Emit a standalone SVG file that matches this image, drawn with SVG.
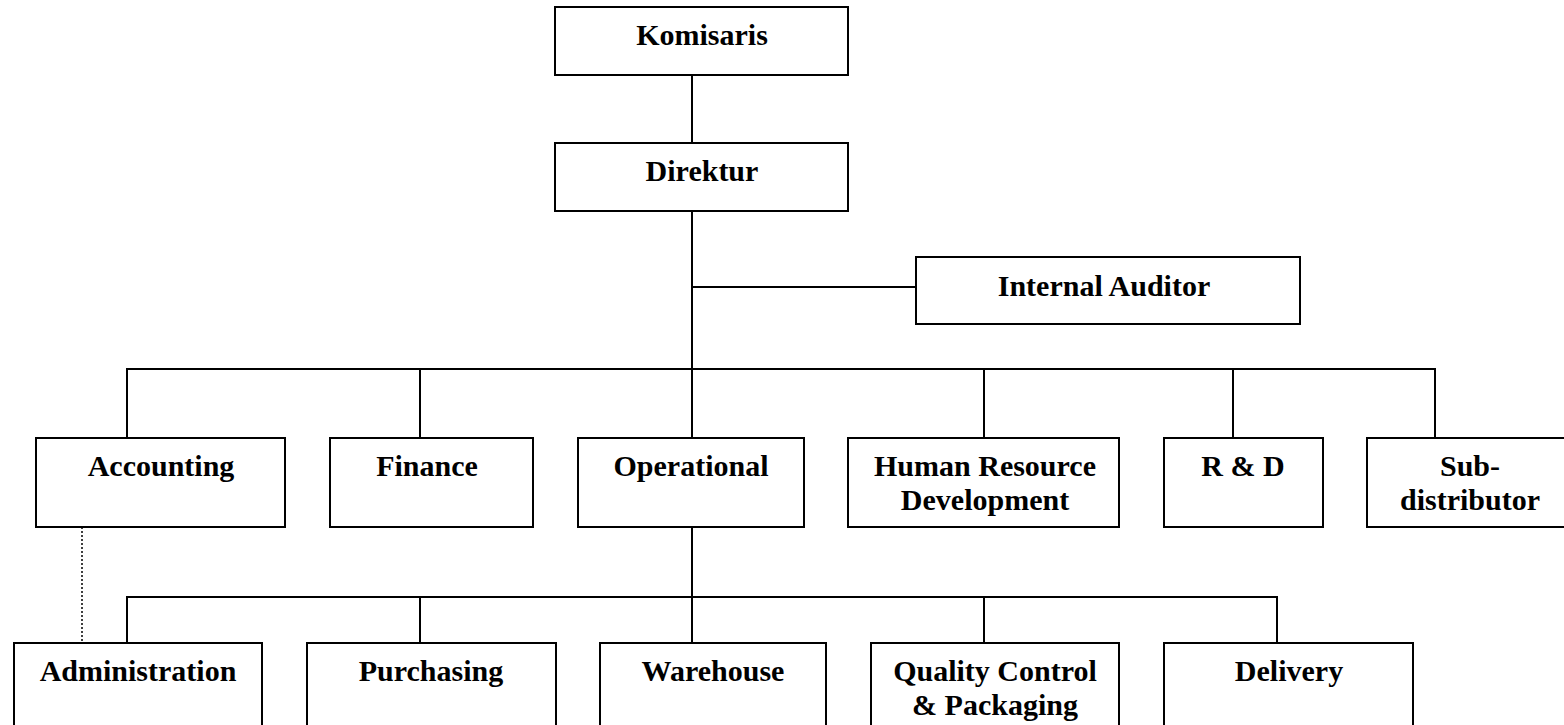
<svg xmlns="http://www.w3.org/2000/svg" width="1564" height="725" viewBox="0 0 1564 725">
<style>
.box{fill:#fff;stroke:#000;stroke-width:2}
.ln{fill:none;stroke:#000;stroke-width:2}
.dot{fill:none;stroke:#000;stroke-width:1.5;stroke-dasharray:2 2}
text{font-family:"Liberation Serif","Times New Roman",serif;font-weight:bold;font-size:30px;text-anchor:middle;fill:#000}
</style>
<rect width="1564" height="725" fill="#fff"/>
<g id="connectors">
<path class="ln" d="M692 75V143M692 211V438M692 287H916"/>
<path class="ln" d="M127 438V369H1435V438M420 369V438M984 369V438M1233 369V438"/>
<path class="ln" d="M692 527V643M127 643V597H1277V643M420 597V643M984 597V643"/>
<path class="dot" d="M82 527V643"/>
</g>
<g id="komisaris"><rect class="box" x="555" y="7" width="293" height="68"/><text x="702" y="45">Komisaris</text></g>
<g id="direktur"><rect class="box" x="555" y="143" width="293" height="68"/><text x="702" y="181">Direktur</text></g>
<g id="internal-auditor"><rect class="box" x="916" y="257" width="384" height="67"/><text x="1104" y="296">Internal Auditor</text></g>
<g id="accounting"><rect class="box" x="36" y="438" width="249" height="89"/><text x="161" y="476">Accounting</text></g>
<g id="finance"><rect class="box" x="330" y="438" width="203" height="89"/><text x="427" y="476">Finance</text></g>
<g id="operational"><rect class="box" x="578" y="438" width="226" height="89"/><text x="691" y="476">Operational</text></g>
<g id="hrd"><rect class="box" x="848" y="438" width="271" height="89"/><text x="985" y="476">Human Resource</text><text x="985" y="510">Development</text></g>
<g id="rnd"><rect class="box" x="1164" y="438" width="159" height="89"/><text x="1243" y="476">R &amp; D</text></g>
<g id="subdistributor"><rect class="box" x="1367" y="438" width="210" height="89"/><text x="1470" y="476">Sub-</text><text x="1470" y="510">distributor</text></g>
<g id="administration"><rect class="box" x="14" y="643" width="248" height="100"/><text x="138" y="681">Administration</text></g>
<g id="purchasing"><rect class="box" x="307" y="643" width="249" height="100"/><text x="431" y="681">Purchasing</text></g>
<g id="warehouse"><rect class="box" x="600" y="643" width="226" height="100"/><text x="713" y="681">Warehouse</text></g>
<g id="quality-control"><rect class="box" x="871" y="643" width="248" height="100"/><text x="995" y="681">Quality Control</text><text x="995" y="715">&amp; Packaging</text></g>
<g id="delivery"><rect class="box" x="1164" y="643" width="249" height="100"/><text x="1289" y="681">Delivery</text></g>
</svg>
